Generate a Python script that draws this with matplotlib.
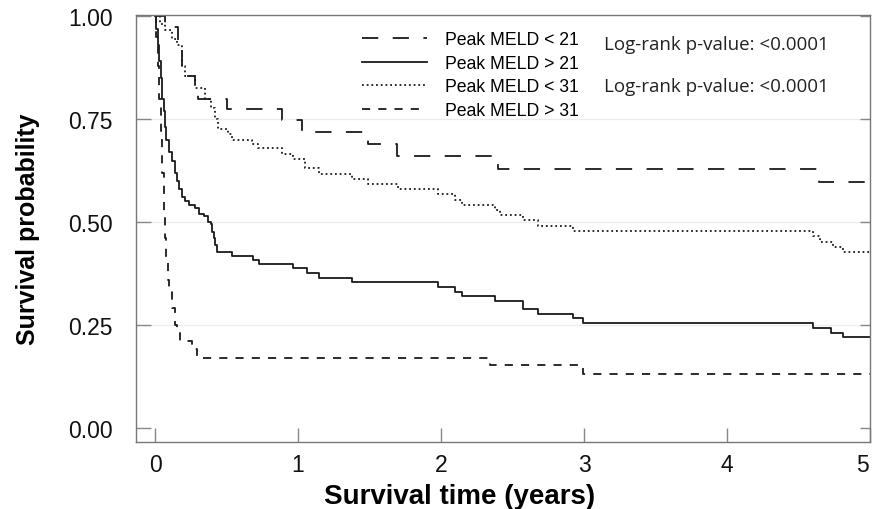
import matplotlib
matplotlib.use("Agg")
import matplotlib.pyplot as plt
from matplotlib.lines import Line2D
import matplotlib.transforms as mtransforms

# ---- data ----
t_lt21 = [0, 0.07, 0.16, 0.19, 0.21, 0.28, 0.30, 0.50, 0.89, 1.03, 1.49, 1.69, 2.40, 4.64, 5.0]
s_lt21 = [1.0, 0.975, 0.926, 0.878, 0.854, 0.825, 0.798, 0.774, 0.747, 0.718, 0.69, 0.66, 0.629, 0.598, 0.598]

t_gt21 = [0, 0.01, 0.02, 0.03, 0.04, 0.05, 0.06, 0.07, 0.08, 0.10, 0.12, 0.14, 0.155, 0.17, 0.19,
          0.21, 0.24, 0.28, 0.31, 0.34, 0.37, 0.39, 0.40, 0.41, 0.42, 0.43, 0.54, 0.685, 0.73,
          0.965, 1.06, 1.15, 1.38, 1.98, 2.10, 2.15, 2.38, 2.57, 2.68, 2.92, 2.99, 4.60, 4.73, 4.81, 5.0]
s_gt21 = [1.0, 0.97, 0.93, 0.89, 0.85, 0.80, 0.77, 0.73, 0.70, 0.67, 0.648, 0.62, 0.60, 0.58, 0.56,
          0.55, 0.54, 0.533, 0.52, 0.514, 0.50, 0.494, 0.475, 0.46, 0.445, 0.426, 0.417, 0.407, 0.397,
          0.388, 0.376, 0.363, 0.354, 0.342, 0.33, 0.32, 0.308, 0.289, 0.277, 0.266, 0.255, 0.243, 0.231, 0.221, 0.221]

t_lt31 = [0, 0.035, 0.07, 0.12, 0.154, 0.19, 0.21, 0.28, 0.35, 0.39, 0.42, 0.44, 0.51, 0.54, 0.68, 0.72,
          0.89, 0.965, 1.05, 1.15, 1.38, 1.49, 1.70, 1.98, 2.10, 2.15, 2.38, 2.41, 2.57, 2.68, 2.92,
          4.60, 4.65, 4.74, 4.81, 5.0]
s_lt31 = [1.0, 0.98, 0.967, 0.945, 0.93, 0.878, 0.854, 0.825, 0.798, 0.777, 0.75, 0.726, 0.714, 0.70, 0.69, 0.68,
          0.665, 0.653, 0.632, 0.617, 0.605, 0.593, 0.581, 0.569, 0.554, 0.542, 0.530, 0.516, 0.504, 0.491, 0.479,
          0.465, 0.45, 0.438, 0.426, 0.426]

t_gt31 = [0, 0.01, 0.02, 0.03, 0.04, 0.05, 0.06, 0.07, 0.08, 0.09, 0.10, 0.12, 0.14, 0.155, 0.175, 0.26, 0.295, 2.34, 2.99, 5.0]
s_gt31 = [1.0, 0.95, 0.88, 0.80, 0.72, 0.62, 0.52, 0.46, 0.40, 0.36, 0.33, 0.29, 0.25, 0.23, 0.211, 0.19, 0.17, 0.151, 0.13, 0.13]

labels = ["Peak MELD < 21", "Peak MELD > 21", "Peak MELD < 31", "Peak MELD > 31"]
xticks = [0, 1, 2, 3, 4, 5]
yticks = [0.0, 0.25, 0.5, 0.75, 1.0]
ytick_labels = ["0.00", "0.25", "0.50", "0.75", "1.00"]
pval_text = ["Log-rank p-value: <0.0001", "Log-rank p-value: <0.0001"]

plt.rcParams['font.family'] = ['Liberation Sans', 'DejaVu Sans']

fig = plt.figure(figsize=(8.74, 5.10), dpi=100)
ax = fig.add_axes([136/874, 1 - 443/510, 734/874, 427/510])

lw = 1.3
styles = [
    dict(linestyle=(0, (9, 8))),
    dict(linestyle='-'),
    dict(linestyle=(0, (1.0, 1.6))),
    dict(linestyle=(0, (4.5, 4.5))),
]
series = [(t_lt21, s_lt21), (t_gt21, s_gt21), (t_lt31, s_lt31), (t_gt31, s_gt31)]
handles = []
for (t, s), st, lab in zip(series, styles, labels):
    ax.step(t, s, where='post', color='#1a1a1a', lw=lw, **st)
    handles.append(Line2D([], [], color='#1a1a1a', lw=lw, **st, label=lab))

ax.set_xlim(-0.133, 5.0)
ax.set_ylim(-0.035, 1.003)
ax.set_xticks(xticks)
ax.set_xticklabels([str(v) for v in xticks])
ax.set_yticks(yticks)
ax.set_yticklabels(ytick_labels)

for yv in [0.25, 0.5, 0.75]:
    ax.axhline(yv, color='#ececec', lw=0.9, zorder=0)

for sp in ax.spines.values():
    sp.set_color('#777777')
    sp.set_linewidth(1.0)

ax.tick_params(axis='x', direction='in', length=10, width=1.0, color='#888888',
               labelsize=16.5, pad=8, labelcolor='#111111')
ax.tick_params(axis='y', direction='in', length=11, width=1.0, color='#888888',
               labelsize=16.5, pad=17, labelcolor='#111111')
# keep the last x label inside the figure, as in the reference
last = ax.get_xticklabels()[-1]
last.set_transform(last.get_transform() + mtransforms.ScaledTranslation(-8/100, 0, fig.dpi_scale_trans))

sec = ax.secondary_yaxis('right')
sec.set_yticks(yticks)
sec.set_yticklabels([])
sec.tick_params(direction='in', length=7, width=1.0, color='#888888')
sec.spines['right'].set_visible(False)

ax.set_xlabel("Survival time (years)", fontsize=20, fontweight='bold', labelpad=3)
ax.xaxis.set_label_coords((460 - 136) / 734, -0.095)
ax.xaxis.label.set_va('top')
ax.set_ylabel("Survival probability", fontsize=18, fontweight='bold', labelpad=20)

leg = ax.legend(handles=handles, loc='upper left', bbox_to_anchor=(362/874, 1 - 32/510),
                bbox_transform=fig.transFigure, frameon=False, fontsize=12.7,
                handlelength=3.7, handletextpad=1.0, labelspacing=0.38,
                borderpad=0, borderaxespad=0)

for i, txt in enumerate(pval_text):
    fig.text(604/874, 1 - (45 + 42*i)/510, txt, fontsize=13.5, va='center', ha='left',
             family=['Open Sans', 'DejaVu Sans'], color='#222222')

fig.savefig("out.png", dpi=100)
